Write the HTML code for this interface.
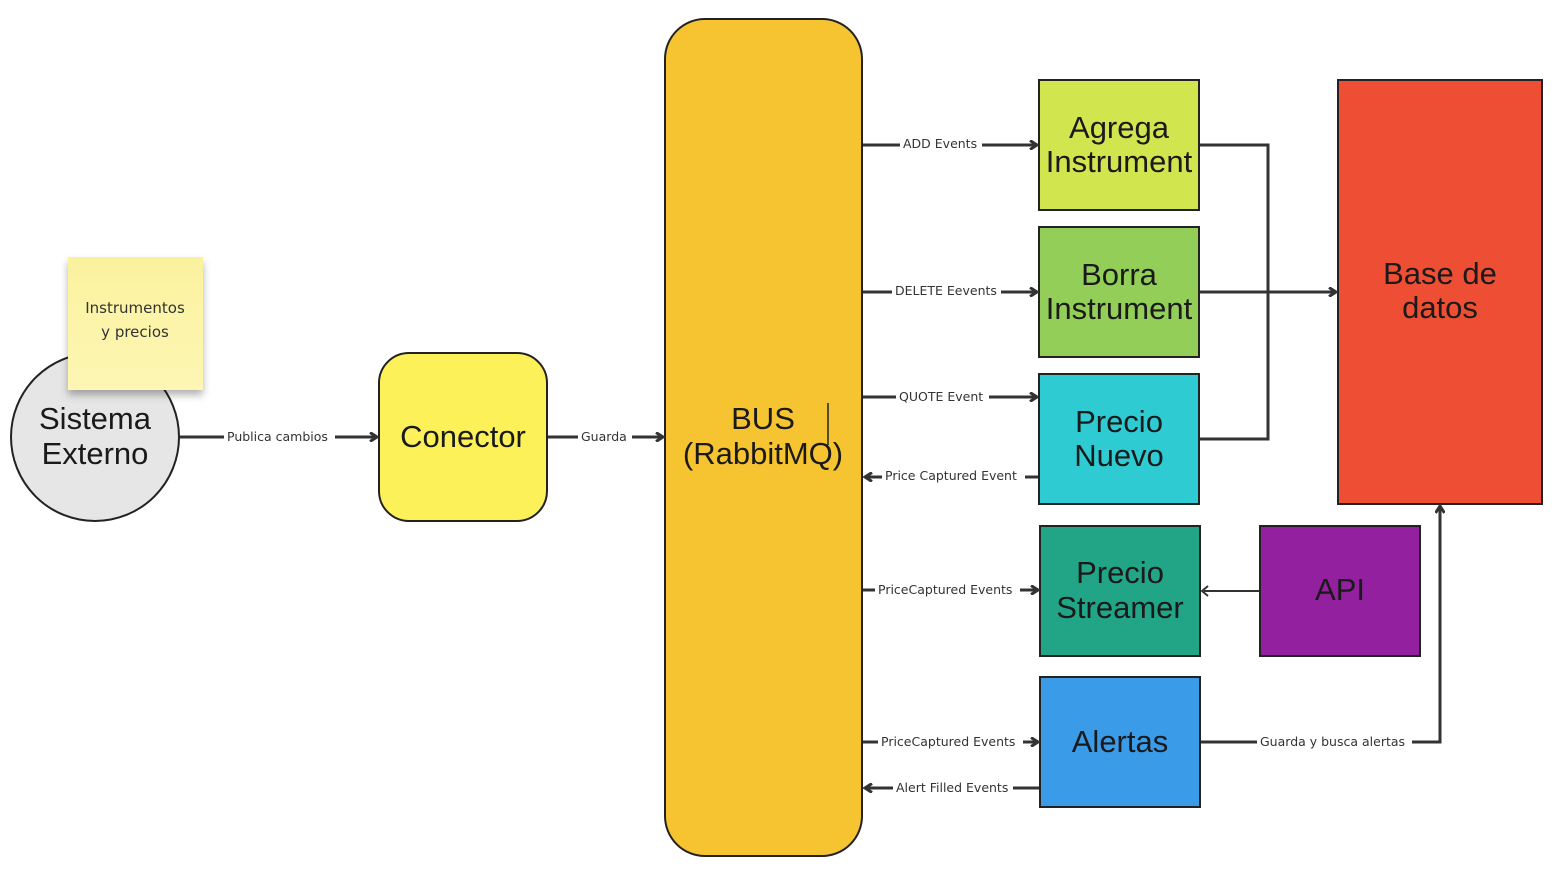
<!DOCTYPE html>
<html><head><meta charset="utf-8"><style>
html,body{margin:0;padding:0;background:#fff;width:1566px;height:871px;overflow:hidden}
svg{display:block}
.lb{font-family:"DejaVu Sans","Liberation Sans",sans-serif;font-size:12.5px;fill:#333}
.big{font-family:"Liberation Sans",sans-serif;font-size:31px;fill:#1a1a1a;text-anchor:middle}
</style></head><body>
<svg width="1566" height="871" viewBox="0 0 1566 871" xmlns="http://www.w3.org/2000/svg">
<defs>
<marker id="a" markerWidth="10" markerHeight="10" refX="7" refY="5" orient="auto" markerUnits="userSpaceOnUse"><path d="M1,0.5 L8,5 L1,9.5" fill="none" stroke="#333" stroke-width="3"/></marker>
<linearGradient id="st" x1="0" y1="0" x2="0" y2="1"><stop offset="0" stop-color="#fbf29e"/><stop offset="1" stop-color="#fdf6b4"/></linearGradient>
<filter id="sh" x="-20%" y="-20%" width="140%" height="150%"><feDropShadow dx="0" dy="5" stdDeviation="4" flood-color="#000" flood-opacity="0.3"/></filter>
</defs>

<circle cx="95" cy="437" r="84" fill="#e6e6e6" stroke="#222" stroke-width="2"/>
<rect x="68" y="257" width="135" height="133" fill="url(#st)" filter="url(#sh)"/>
<text x="135" y="313" class="lb" text-anchor="middle" font-size="15" style="font-size:15px">Instrumentos</text>
<text x="135" y="337" class="lb" text-anchor="middle" style="font-size:15px">y precios</text>
<text x="95" y="429" class="big" style="font-size:31px">Sistema</text>
<text x="95" y="464" class="big">Externo</text>

<rect x="379" y="353" width="168" height="168" rx="30" fill="#fdf15a" stroke="#222" stroke-width="2"/>
<text x="463" y="447" class="big">Conector</text>

<rect x="665" y="19" width="197" height="837" rx="40" fill="#f6c431" stroke="#222" stroke-width="2"/>
<text x="763" y="429" class="big">BUS</text>
<text x="763" y="464" class="big">(RabbitMQ)</text>
<line x1="828" y1="403" x2="828" y2="445" stroke="#222" stroke-width="1.5"/>

<rect x="1039" y="80" width="160" height="130" fill="#d1e54f" stroke="#222" stroke-width="2"/>
<text x="1119" y="138" class="big">Agrega</text><text x="1119" y="172" class="big">Instrument</text>
<rect x="1039" y="227" width="160" height="130" fill="#93cf58" stroke="#222" stroke-width="2"/>
<text x="1119" y="285" class="big">Borra</text><text x="1119" y="319" class="big">Instrument</text>
<rect x="1039" y="374" width="160" height="130" fill="#2ecbd3" stroke="#222" stroke-width="2"/>
<text x="1119" y="432" class="big">Precio</text><text x="1119" y="466" class="big">Nuevo</text>
<rect x="1040" y="526" width="160" height="130" fill="#22a587" stroke="#222" stroke-width="2"/>
<text x="1120" y="583" class="big">Precio</text><text x="1120" y="618" class="big">Streamer</text>
<rect x="1040" y="677" width="160" height="130" fill="#3a9be9" stroke="#222" stroke-width="2"/>
<text x="1120" y="752" class="big">Alertas</text>
<rect x="1260" y="526" width="160" height="130" fill="#93209f" stroke="#222" stroke-width="2"/>
<text x="1340" y="600" class="big">API</text>
<rect x="1338" y="80" width="204" height="424" fill="#ee4e33" stroke="#222" stroke-width="2"/>
<text x="1440" y="284" class="big">Base de</text><text x="1440" y="318" class="big">datos</text>

<g stroke="#333" stroke-width="3" fill="none">
<line x1="180" y1="437" x2="376" y2="437" marker-end="url(#a)"/>
<line x1="548" y1="437" x2="662" y2="437" marker-end="url(#a)"/>
<line x1="863" y1="145" x2="1036" y2="145" marker-end="url(#a)"/>
<line x1="863" y1="292" x2="1036" y2="292" marker-end="url(#a)"/>
<line x1="863" y1="397" x2="1036" y2="397" marker-end="url(#a)"/>
<line x1="1038" y1="477" x2="866" y2="477" marker-end="url(#a)"/>
<line x1="863" y1="590" x2="1037" y2="590" marker-end="url(#a)"/>
<line x1="863" y1="742" x2="1037" y2="742" marker-end="url(#a)"/>
<line x1="1039" y1="788" x2="866" y2="788" marker-end="url(#a)"/>
<polyline points="1200,145 1268,145 1268,439 1200,439"/>
<line x1="1200" y1="292" x2="1335" y2="292" marker-end="url(#a)"/>
<polyline points="1201,742 1440,742 1440,507" marker-end="url(#a)"/>
</g>
<line x1="1259" y1="591" x2="1204" y2="591" stroke="#333" stroke-width="2"/>
<path d="M1208,586 L1202,591 L1208,596" stroke="#333" stroke-width="2" fill="none"/>

<g class="lb">
<rect x="224" y="428" width="111" height="17" fill="#fff"/><text x="227" y="441">Publica cambios</text>
<rect x="578" y="428" width="54" height="17" fill="#fff"/><text x="581" y="441">Guarda</text>
<rect x="900" y="136" width="82" height="17" fill="#fff"/><text x="903" y="148">ADD Events</text>
<rect x="892" y="283" width="109" height="17" fill="#fff"/><text x="895" y="295">DELETE Eevents</text>
<rect x="896" y="388" width="93" height="17" fill="#fff"/><text x="899" y="401">QUOTE Event</text>
<rect x="882" y="468" width="143" height="17" fill="#fff"/><text x="885" y="480">Price Captured Event</text>
<rect x="875" y="581" width="145" height="17" fill="#fff"/><text x="878" y="594">PriceCaptured Events</text>
<rect x="878" y="733" width="145" height="17" fill="#fff"/><text x="881" y="746">PriceCaptured Events</text>
<rect x="893" y="779" width="120" height="17" fill="#fff"/><text x="896" y="792">Alert Filled Events</text>
<rect x="1257" y="733" width="155" height="17" fill="#fff"/><text x="1260" y="746">Guarda y busca alertas</text>
</g>
</svg>
</body></html>
